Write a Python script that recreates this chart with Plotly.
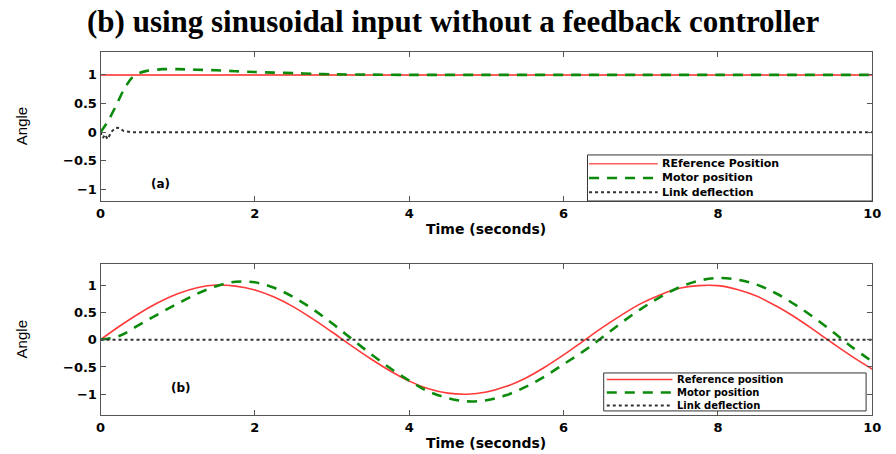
import plotly.graph_objects as go

# ---------------- data ----------------
# (a) top panel
t_ref_a = [0, 10]
ref_a = [1, 1]
t_motor_a = [0, 0.1, 0.2, 0.3, 0.4, 0.5, 0.6, 0.8, 1.0, 1.25, 1.5, 1.75, 2.0, 2.25, 2.5, 2.75, 3.0, 3.5, 4, 5, 6, 7, 8, 9, 10]
motor_a = [0, 0.2, 0.46, 0.74, 0.94, 1.03, 1.07, 1.1, 1.1, 1.09, 1.08, 1.065, 1.05, 1.04, 1.03, 1.02, 1.01, 1.005, 1.0, 1.0, 1.0, 1.0, 1.0, 1.0, 1.0]
t_link_a = [0, 0.03, 0.06, 0.09, 0.12, 0.15, 0.2, 0.25, 0.3, 0.4, 10]
link_a = [0, -0.1, -0.04, -0.12, -0.05, 0.02, 0.08, 0.07, 0.02, 0, 0]

# (b) bottom panel
t_b = [0, 0.25, 0.5, 0.75, 1.0, 1.25, 1.5, 1.75, 2.0, 2.25, 2.5, 2.75, 3.0, 3.25, 3.5, 3.75,
       4.0, 4.25, 4.5, 4.75, 5.0, 5.25, 5.5, 5.75, 6.0, 6.25, 6.5, 6.75, 7.0, 7.25, 7.5, 7.75,
       8.0, 8.25, 8.5, 8.75, 9.0, 9.25, 9.5, 9.75, 10.0]
ref_b = [0, 0.25, 0.48, 0.68, 0.84, 0.95, 1.0, 0.98, 0.91, 0.78, 0.6, 0.38, 0.14, -0.11, -0.35, -0.57,
         -0.76, -0.9, -0.98, -1.0, -0.96, -0.86, -0.71, -0.51, -0.28, -0.03, 0.22, 0.45, 0.66, 0.82, 0.94, 0.99,
         0.99, 0.92, 0.8, 0.62, 0.41, 0.17, -0.08, -0.32, -0.54]
motor_b = [0, 0.07, 0.27, 0.47, 0.66, 0.84, 0.98, 1.06, 1.05, 0.95, 0.78, 0.56, 0.3, 0.02, -0.26, -0.52,
           -0.75, -0.95, -1.07, -1.13, -1.11, -1.02, -0.87, -0.68, -0.45, -0.22, 0.04, 0.31, 0.56, 0.78, 0.96, 1.08,
           1.13, 1.1, 1.01, 0.85, 0.64, 0.4, 0.13, -0.15, -0.4]
link_b = [0] * len(t_b)

title_text = "(b) using sinusoidal input without a feedback controller"
legend_a = ["REference Position", "Motor position", "Link deflection"]
legend_b = ["Reference position", "Motor position", "Link deflection"]
x_ticks = [0, 2, 4, 6, 8, 10]
y_ticks = [-1, -0.5, 0, 0.5, 1]

# ---------------- styles ----------------
RED_A = "#ff5c5c"
RED_B = "#ff3a3a"
GREEN = "#0b8a0b"
DOT = "#333333"
GDASH = "10px,8px"
SANS = "DejaVu Sans, Liberation Sans, Arial"

fig = go.Figure()

fig.add_trace(go.Scatter(x=t_ref_a, y=ref_a, mode="lines", line=dict(color=RED_A, width=2),
                         xaxis="x", yaxis="y", showlegend=False))
fig.add_trace(go.Scatter(x=t_motor_a, y=motor_a, mode="lines", line=dict(color=GREEN, width=2.6, dash=GDASH, shape="spline", smoothing=0.6),
                         xaxis="x", yaxis="y", showlegend=False))
fig.add_trace(go.Scatter(x=t_link_a, y=link_a, mode="lines", line=dict(color=DOT, width=2, dash="dot"),
                         xaxis="x", yaxis="y", showlegend=False))

fig.add_trace(go.Scatter(x=t_b, y=ref_b, mode="lines", line=dict(color=RED_B, width=1.6, shape="spline"),
                         xaxis="x2", yaxis="y2", showlegend=False))
fig.add_trace(go.Scatter(x=t_b, y=motor_b, mode="lines", line=dict(color=GREEN, width=2.6, dash=GDASH, shape="spline"),
                         xaxis="x2", yaxis="y2", showlegend=False))
fig.add_trace(go.Scatter(x=t_b, y=link_b, mode="lines", line=dict(color=DOT, width=2, dash="dot"),
                         xaxis="x2", yaxis="y2", showlegend=False))

axis_common = dict(showgrid=False, zeroline=False, showline=True, linecolor="#555555", linewidth=1,
                   mirror="ticks", ticks="inside", ticklen=5, tickcolor="#555555",
                   tickfont=dict(family=SANS, size=13, color="black", weight="bold"))

fig.update_layout(
    width=896, height=454,
    margin=dict(l=0, r=0, t=0, b=0),
    paper_bgcolor="white", plot_bgcolor="white",
    xaxis=dict(domain=[0.1083, 0.9833], range=[0, 10], tickvals=x_ticks, anchor="y", **axis_common),
    yaxis=dict(domain=[0.5573, 0.8855], range=[-1.2, 1.4], tickvals=y_ticks, ticksuffix="   ", anchor="x", **axis_common),
    xaxis2=dict(domain=[0.1083, 0.9833], range=[0, 10], tickvals=x_ticks, anchor="y2", **axis_common),
    yaxis2=dict(domain=[0.0859, 0.4178], range=[-1.38, 1.38], tickvals=y_ticks, ticksuffix="   ", anchor="x2", **axis_common),
)

annotations = []
# Main title
annotations.append(dict(text=title_text, xref="paper", yref="paper", x=0.508, y=1 - 21 / 454,
                        xanchor="center", yanchor="middle", showarrow=False,
                        font=dict(family="Liberation Serif, Times New Roman, serif", size=31, color="black", weight="bold")))
# Axis titles
for xr, yr in [("x", "y"), ("x2", "y2")]:
    annotations.append(dict(text="Time (seconds)", xref=xr + " domain", yref=yr + " domain", x=0.5, y=0,
                            yshift=-28, xanchor="center", yanchor="middle", showarrow=False,
                            font=dict(family=SANS, size=14, color="black", weight="bold")))
    annotations.append(dict(text="Angle", xref="paper", yref=yr + " domain", x=17 / 896, y=0.5,
                            xanchor="center", yanchor="middle", textangle=-90, showarrow=False,
                            font=dict(family="Liberation Sans Narrow, Liberation Sans, Arial", size=15, color="black")))
# Panel labels
annotations.append(dict(text="(a)", xref="x", yref="y", x=0.78, y=-0.9, showarrow=False,
                        font=dict(family=SANS, size=12, color="black", weight="bold")))
annotations.append(dict(text="(b)", xref="x2", yref="y2", x=1.04, y=-0.88, showarrow=False,
                        font=dict(family=SANS, size=12, color="black", weight="bold")))

shapes = []


def add_legend(xr, yr, box, mid, step, sample_x, text_x, labels, red, fsize):
    x0, x1, y0, y1 = box
    shapes.append(dict(type="rect", xref=xr + " domain", yref=yr + " domain", x0=x0, x1=x1, y0=y0, y1=y1,
                       line=dict(color="#333333", width=1), fillcolor="white", layer="above"))
    styles = [dict(color=red, width=1.6), dict(color=GREEN, width=2.6, dash=GDASH), dict(color=DOT, width=2, dash="dot")]
    rows = [mid + step, mid, mid - step]
    for ry, st in zip(rows, styles):
        shapes.append(dict(type="line", xref=xr + " domain", yref=yr + " domain", x0=sample_x[0], x1=sample_x[1],
                           y0=ry, y1=ry, line=st, layer="above"))
    annotations.append(dict(text="<br>".join(labels), xref=xr + " domain", yref=yr + " domain", x=text_x, y=mid,
                            xanchor="left", yanchor="middle", align="left", showarrow=False,
                            font=dict(family=SANS, size=fsize, color="black", weight="bold")))


add_legend("x", "y", (0.631, 1.0, 0.0, 0.309), 0.154, 14.3 / 149, (0.633, 0.722), 0.725, legend_a, RED_A, 11)
add_legend("x2", "y2", (0.652, 0.992, 0.027, 0.279), 0.149, 13.0 / 150.7, (0.656, 0.741), 0.745, legend_b, RED_B, 10)

fig.update_layout(annotations=annotations, shapes=shapes)

fig.write_html("out.html")
